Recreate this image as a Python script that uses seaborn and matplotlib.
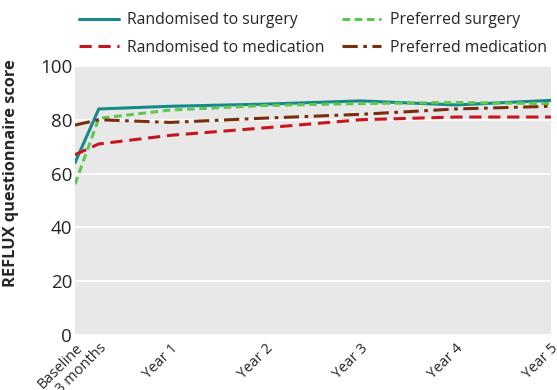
import matplotlib
matplotlib.use("Agg")
import matplotlib.pyplot as plt
import seaborn as sns
import pandas as pd

times = [0, 0.25, 1, 2, 3, 4, 5]
tick_labels = ["Baseline", "3 months", "Year 1", "Year 2", "Year 3", "Year 4", "Year 5"]

randomised_surgery = [64, 84, 85, 85.8, 87, 85.5, 87.2]
preferred_surgery = [56, 80.5, 83.6, 85.3, 86, 86.4, 86]
randomised_medication = [67, 71, 74.2, 77, 80, 81, 81]
preferred_medication = [78, 80, 79, 80.6, 82, 84, 85]

series_names = ["Randomised to surgery", "Randomised to medication",
                "Preferred surgery", "Preferred medication"]
series_values = [randomised_surgery, randomised_medication,
                 preferred_surgery, preferred_medication]
colors = ["#17898a", "#c8151e", "#5cc850", "#7a2e0e"]
styles = ["-", (0, (4, 2.2)), (0, (2.5, 1.5)), (0, (5, 1.8, 1.2, 1.8))]
widths = [2.2, 2.2, 2.2, 2.2]

sns.set_theme(style="darkgrid")
plt.rcParams["font.family"] = ["Open Sans", "DejaVu Sans"]

fig = plt.figure(figsize=(5.57, 3.9), dpi=100)
ax = fig.add_axes([0.1346, 0.141, 0.8544, 0.69])
ax.set_facecolor("#e8e8e8")

handles = []
for name, vals, c, ls, lw in zip(series_names, series_values, colors, styles, widths):
    df = pd.DataFrame({"time": times, "score": vals})
    sns.lineplot(data=df, x="time", y="score", ax=ax, color=c, linewidth=lw,
                 linestyle=ls, label=name, legend=False)
    handles.append(ax.lines[-1])

ax.set_xlim(0, 5)
ax.set_ylim(0, 100)
ax.set_yticks([0, 20, 40, 60, 80, 100])
ax.set_xticks(times)
ax.set_xticklabels(tick_labels, rotation=45, ha="right", rotation_mode="anchor",
                   fontsize=10.5)
ax.tick_params(axis="y", labelsize=13.5, pad=2, length=0)
ax.tick_params(axis="x", direction="in", length=4, width=1.2, color="white", pad=4)
ax.grid(axis="x", visible=False)
ax.grid(axis="y", color="white", linewidth=1.2)
for s in ax.spines.values():
    s.set_visible(False)
ax.set_xlabel("")
ax.set_ylabel("REFLUX questionnaire score", fontsize=11.8, fontweight="bold")
ax.yaxis.set_label_coords(-0.118, 0.6)

fig.legend(handles, series_names, loc="upper left", ncol=2, frameon=False,
           fontsize=11.3, bbox_to_anchor=(0.117, 1.005), handlelength=2.5,
           columnspacing=1.1, labelspacing=0.75, handletextpad=0.55, borderpad=0.4)

fig.savefig("out.png", dpi=100)
